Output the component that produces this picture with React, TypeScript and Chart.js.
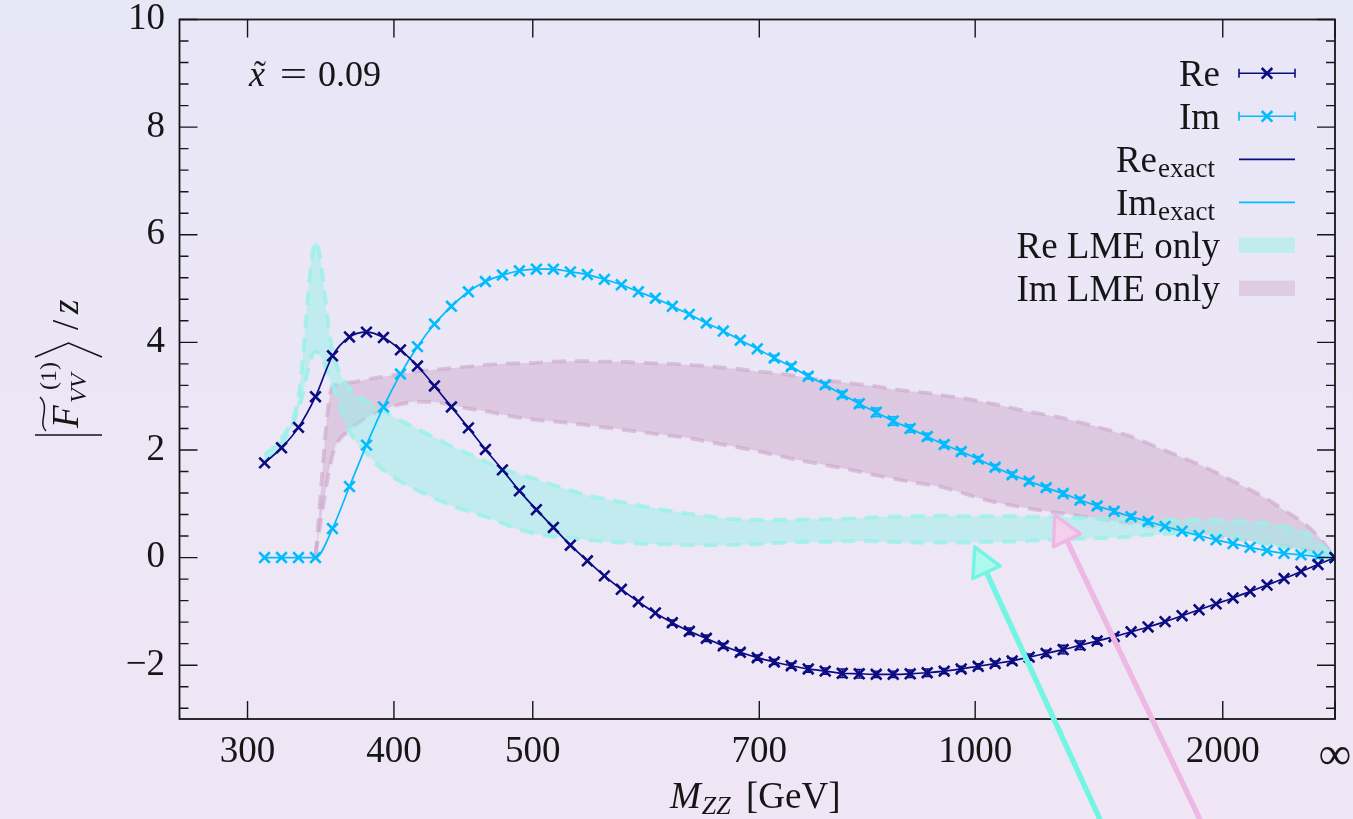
import React, { useEffect, useRef } from "react";
import { Chart, registerables } from "chart.js";

Chart.register(...registerables);

// ---------- axis transform: u = M^2 / (M^2 + M0^2), M = ∞ -> u = 1 ----------
const M0 = 600;
const toU = (m: number): number => (Number.isFinite(m) ? (m * m) / (m * m + M0 * M0) : 1);

// sampling grid (uniform in u)
const U_START = 0.2125;
const U_STEP = 0.0125;

const X_TICK_MASSES = [300, 400, 500, 700, 1000, 2000, Infinity];
const X_TICK_LABELS = ["300", "400", "500", "700", "1000", "2000", "∞"];
const X_MIN_MASS = 252;
const Y_TICKS = [-2, 0, 2, 4, 6, 8, 10];
const Y_MIN = -3;
const Y_MAX = 10;
const Y_MINOR_STEP = 0.4;

// ---------- data ----------
const RE = [
  1.76, 2.04, 2.42, 2.99, 3.75, 4.1, 4.19, 4.09, 3.86, 3.56,
  3.19, 2.8, 2.41, 2.01, 1.63, 1.24, 0.89, 0.56, 0.23, -0.06,
  -0.34, -0.59, -0.82, -1.03, -1.21, -1.37, -1.5, -1.64, -1.76, -1.86,
  -1.94, -2.01, -2.07, -2.11, -2.15, -2.16, -2.17, -2.17, -2.16, -2.14,
  -2.11, -2.07, -2.02, -1.97, -1.92, -1.85, -1.78, -1.71, -1.63, -1.55,
  -1.47, -1.38, -1.29, -1.19, -1.08, -0.97, -0.86, -0.75, -0.63, -0.51,
  -0.39, -0.26, -0.13, 0.0,
];
const IM = [
  0, 0, 0, 0, 0.54, 1.32, 2.09, 2.8, 3.41, 3.92,
  4.34, 4.67, 4.94, 5.13, 5.25, 5.33, 5.36, 5.36, 5.31, 5.26,
  5.17, 5.07, 4.94, 4.82, 4.67, 4.52, 4.36, 4.21, 4.04, 3.88,
  3.71, 3.55, 3.37, 3.21, 3.03, 2.86, 2.7, 2.54, 2.4, 2.25,
  2.1, 1.97, 1.83, 1.68, 1.54, 1.42, 1.3, 1.19, 1.07, 0.96,
  0.86, 0.76, 0.67, 0.58, 0.49, 0.41, 0.33, 0.26, 0.19, 0.13,
  0.08, 0.05, 0.02, 0.0,
];
const RE_ERR = [
  0, 0, 0, 0, 0, 0, 0, 0, 0, 0,
  0, 0, 0, 0, 0, 0, 0, 0, 0, 0,
  0, 0, 0, 0, 0.05, 0.06, 0.06, 0.05, 0.05, 0.05,
  0.05, 0.05, 0.06, 0.06, 0.08, 0.08, 0.06, 0.06, 0.07, 0.07,
  0.05, 0.05, 0.05, 0.05, 0.05, 0.06, 0.06, 0.08, 0.08, 0.06,
  0.05, 0, 0, 0, 0, 0, 0, 0, 0, 0,
  0, 0, 0, 0,
];
const IM_ERR = [
  0, 0, 0, 0, 0, 0, 0, 0, 0, 0,
  0, 0, 0, 0, 0, 0, 0, 0, 0, 0,
  0, 0, 0, 0, 0, 0, 0, 0, 0, 0,
  0.05, 0.05, 0.05, 0.05, 0.06, 0.07, 0.08, 0.08, 0.07, 0.06,
  0.06, 0.05, 0.05, 0.05, 0.05, 0.05, 0.05, 0.05, 0.05, 0.05,
  0.05, 0.05, 0.05, 0, 0, 0, 0, 0, 0, 0,
  0, 0, 0, 0,
];
const RE_LME_HI = [
  1.91, 2.22, 3.0, 5.87, 3.85, 3.14, 2.91, 2.72, 2.55, 2.39,
  2.23, 2.07, 1.93, 1.79, 1.65, 1.55, 1.45, 1.35, 1.25, 1.16,
  1.09, 1.03, 0.97, 0.91, 0.86, 0.81, 0.77, 0.73, 0.71, 0.7,
  0.7, 0.7, 0.71, 0.71, 0.72, 0.73, 0.75, 0.76, 0.77, 0.77,
  0.78, 0.77, 0.77, 0.77, 0.77, 0.76, 0.76, 0.75, 0.74, 0.73,
  0.72, 0.71, 0.7, 0.7, 0.7, 0.7, 0.69, 0.68, 0.67, 0.63,
  0.57, 0.5, 0.3, 0.0,
];
const RE_LME_LO = [
  1.78, 2.1, 2.75, 3.83, 3.2, 2.35, 1.94, 1.62, 1.41, 1.25,
  1.1, 0.97, 0.86, 0.76, 0.64, 0.52, 0.44, 0.39, 0.36, 0.33,
  0.3, 0.28, 0.26, 0.25, 0.24, 0.23, 0.23, 0.23, 0.24, 0.25,
  0.27, 0.28, 0.29, 0.29, 0.3, 0.31, 0.3, 0.29, 0.28, 0.28,
  0.28, 0.28, 0.29, 0.29, 0.3, 0.31, 0.33, 0.34, 0.35, 0.36,
  0.37, 0.39, 0.42, 0.44, 0.45, 0.45, 0.42, 0.38, 0.32, 0.25,
  0.19, 0.13, 0.07, 0.0,
];
const IM_LME_HI = [
  null, null, null, 0.05, 3.18, 3.25, 3.31, 3.36, 3.41, 3.46,
  3.49, 3.52, 3.55, 3.58, 3.6, 3.61, 3.62, 3.64, 3.65, 3.65,
  3.64, 3.64, 3.62, 3.61, 3.6, 3.58, 3.56, 3.53, 3.5, 3.46,
  3.43, 3.39, 3.34, 3.29, 3.26, 3.22, 3.18, 3.13, 3.09, 3.06,
  3.01, 2.97, 2.91, 2.85, 2.78, 2.71, 2.65, 2.59, 2.51, 2.43,
  2.34, 2.25, 2.12, 1.99, 1.86, 1.73, 1.58, 1.42, 1.26, 1.09,
  0.88, 0.68, 0.4, 0.0,
];
const IM_LME_LO = [
  null, null, null, 0.05, 1.9, 2.37, 2.6, 2.75, 2.85, 2.9,
  2.89, 2.84, 2.77, 2.72, 2.66, 2.6, 2.56, 2.53, 2.5, 2.46,
  2.42, 2.38, 2.34, 2.3, 2.26, 2.22, 2.16, 2.1, 2.04, 1.98,
  1.91, 1.84, 1.78, 1.72, 1.66, 1.6, 1.53, 1.47, 1.41, 1.36,
  1.3, 1.21, 1.11, 1.03, 0.97, 0.91, 0.86, 0.82, 0.77, 0.73,
  0.68, 0.64, 0.59, 0.54, 0.5, 0.45, 0.4, 0.36, 0.31, 0.26,
  0.21, 0.16, 0.09, 0.0,
];

// decorative arrows, in data coordinates [u, value]
const ARROWS = [
  { from: [0.827, -4.86], to: [0.735, 0.2], color: "#74f5e4", head: "#aef8ee" },
  { from: [0.9005, -4.86], to: [0.7939, 0.79], color: "#eeb8e4", head: "#f4d0ee" },
];

// ---------- styles ----------
const NAVY = "#0c0c82";
const SKY = "#00bcff";
const CYAN_FILL = "rgba(150,240,232,0.5)";
const CYAN_EDGE = "rgba(150,242,232,0.8)";
const PURPLE_FILL = "rgba(205,165,200,0.45)";
const PURPLE_EDGE = "rgba(205,170,205,0.65)";
const CYAN_BOX = "#c0ecee";
const PURPLE_BOX = "#decce2";
const INK = "#161616";
const SERIF = '"Liberation Serif", "Times New Roman", serif';
const font = (size: number, italic = false) => `${italic ? "italic " : ""}${size}px ${SERIF}`;

const LEGEND = [
  { label: "Re", sub: "", kind: "err", color: NAVY },
  { label: "Im", sub: "", kind: "err", color: SKY },
  { label: "Re", sub: "exact", kind: "line", color: NAVY },
  { label: "Im", sub: "exact", kind: "line", color: SKY },
  { label: "Re LME only", sub: "", kind: "box", color: CYAN_BOX },
  { label: "Im LME only", sub: "", kind: "box", color: PURPLE_BOX },
];

const pts = (arr: (number | null)[]) => arr.map((y, i) => ({ x: U_START + i * U_STEP, y }));

function drawCross(ctx: CanvasRenderingContext2D, x: number, y: number, r: number) {
  const o = r * Math.SQRT1_2;
  ctx.beginPath();
  ctx.moveTo(x - o, y - o);
  ctx.lineTo(x + o, y + o);
  ctx.moveTo(x - o, y + o);
  ctx.lineTo(x + o, y - o);
  ctx.stroke();
}

function drawErrors(ctx: CanvasRenderingContext2D, xs: any, ys: any, vals: number[], errs: number[], color: string) {
  ctx.save();
  ctx.strokeStyle = color;
  ctx.lineWidth = 1.4;
  vals.forEach((v, i) => {
    const e = errs[i];
    if (!e) return;
    const x = xs.getPixelForValue(U_START + i * U_STEP);
    const y1 = ys.getPixelForValue(v - e);
    const y2 = ys.getPixelForValue(v + e);
    ctx.beginPath();
    ctx.moveTo(x, y1);
    ctx.lineTo(x, y2);
    ctx.moveTo(x - 5, y1);
    ctx.lineTo(x + 5, y1);
    ctx.moveTo(x - 5, y2);
    ctx.lineTo(x + 5, y2);
    ctx.stroke();
  });
  ctx.restore();
}

function drawArrow(ctx: CanvasRenderingContext2D, x1: number, y1: number, x2: number, y2: number, color: string, head: string) {
  const dx = x2 - x1;
  const dy = y2 - y1;
  const L = Math.hypot(dx, dy);
  const ux = dx / L;
  const uy = dy / L;
  const hl = 28;
  const hw = 15;
  const bx = x2 - ux * hl;
  const by = y2 - uy * hl;
  ctx.save();
  ctx.strokeStyle = color;
  ctx.lineCap = "round";
  ctx.lineJoin = "round";
  ctx.lineWidth = 5.5;
  ctx.beginPath();
  ctx.moveTo(x1, y1);
  ctx.lineTo(bx + ux * 3, by + uy * 3);
  ctx.stroke();
  ctx.beginPath();
  ctx.moveTo(x2, y2);
  ctx.lineTo(bx - uy * hw, by + ux * hw);
  ctx.lineTo(bx + uy * hw, by - ux * hw);
  ctx.closePath();
  ctx.fillStyle = head;
  ctx.fill();
  ctx.lineWidth = 3.5;
  ctx.stroke();
  ctx.restore();
}

const decorPlugin = {
  id: "decor",
  afterDatasetsDraw(chart: any) {
    const ctx: CanvasRenderingContext2D = chart.ctx;
    const xs = chart.scales.x;
    const ys = chart.scales.y;
    const a = chart.chartArea;

    drawErrors(ctx, xs, ys, RE, RE_ERR, NAVY);
    drawErrors(ctx, xs, ys, IM, IM_ERR, SKY);

    ctx.save();
    // frame
    ctx.strokeStyle = INK;
    ctx.lineWidth = 1.8;
    ctx.strokeRect(a.left, a.top, a.right - a.left, a.bottom - a.top);
    // ticks
    ctx.lineWidth = 1.4;
    ctx.beginPath();
    X_TICK_MASSES.forEach((m) => {
      const x = xs.getPixelForValue(toU(m));
      ctx.moveTo(x, a.bottom);
      ctx.lineTo(x, a.bottom - 18);
      ctx.moveTo(x, a.top);
      ctx.lineTo(x, a.top + 18);
    });
    for (let k = Math.ceil(Y_MIN / Y_MINOR_STEP); k <= Math.floor(Y_MAX / Y_MINOR_STEP); k++) {
      const v = k * Y_MINOR_STEP;
      const major = k % 5 === 0;
      const len = major ? 18 : 9;
      const y = ys.getPixelForValue(v);
      ctx.moveTo(a.left, y);
      ctx.lineTo(a.left + len, y);
      ctx.moveTo(a.right, y);
      ctx.lineTo(a.right - len, y);
    }
    ctx.stroke();

    ctx.fillStyle = INK;
    ctx.textBaseline = "alphabetic";

    // annotation  x̃ = 0.09
    ctx.font = font(36, true);
    ctx.textAlign = "left";
    ctx.fillText("x", 249, 86);
    ctx.font = font(36);
    ctx.textAlign = "center";
    ctx.fillText("˜", 260, 86);
    ctx.save();
    ctx.translate(293.5, 86);
    ctx.scale(1.35, 1);
    ctx.fillText("=", 0, 0);
    ctx.restore();
    ctx.textAlign = "left";
    ctx.fillText("0.09", 318, 86);

    // legend
    LEGEND.forEach((item, k) => {
      const cy = 73.3 + 43 * k;
      const base = cy + 12.7;
      ctx.fillStyle = INK;
      ctx.textAlign = "right";
      if (item.sub) {
        ctx.font = font(27);
        const sw = ctx.measureText(item.sub).width;
        ctx.fillText(item.sub, 1215, base + 5);
        ctx.font = font(37);
        ctx.fillText(item.label, 1215 - sw - 1, base);
      } else {
        ctx.font = font(37);
        ctx.fillText(item.label, 1220, base);
      }
      ctx.strokeStyle = item.color;
      if (item.kind === "err") {
        ctx.lineWidth = 1.6;
        ctx.beginPath();
        ctx.moveTo(1239, cy);
        ctx.lineTo(1295, cy);
        ctx.moveTo(1239, cy - 4.5);
        ctx.lineTo(1239, cy + 4.5);
        ctx.moveTo(1295, cy - 4.5);
        ctx.lineTo(1295, cy + 4.5);
        ctx.stroke();
        ctx.lineWidth = 2.6;
        drawCross(ctx, 1267, cy, 7.5);
      } else if (item.kind === "line") {
        ctx.lineWidth = 1.8;
        ctx.beginPath();
        ctx.moveTo(1239, cy);
        ctx.lineTo(1295, cy);
        ctx.stroke();
      } else {
        ctx.fillStyle = item.color;
        ctx.fillRect(1239, cy - 7.7, 56, 15.4);
      }
    });

    // x-axis title  M_ZZ [GeV]
    ctx.fillStyle = INK;
    ctx.textAlign = "left";
    ctx.font = font(37, true);
    ctx.fillText("M", 670, 808);
    const mw = ctx.measureText("M").width;
    ctx.font = font(26, true);
    ctx.fillText("ZZ", 670 + mw + 1, 814);
    ctx.font = font(37);
    ctx.fillText("[GeV]", 746, 808);

    // y-axis title  |F̃^(1)_VV⟩ /z
    ctx.save();
    ctx.translate(68, 370);
    ctx.rotate(-Math.PI / 2);
    ctx.strokeStyle = INK;
    ctx.lineWidth = 1.6;
    ctx.beginPath();
    ctx.moveTo(-65, -33);
    ctx.lineTo(-65, 34);
    ctx.moveTo(13, -33);
    ctx.lineTo(27, 0.5);
    ctx.lineTo(13, 34);
    ctx.stroke();
    ctx.lineWidth = 1.5;
    ctx.beginPath();
    ctx.moveTo(-61, -22);
    ctx.bezierCurveTo(-53, -31, -38, -17, -27, -28);
    ctx.stroke();
    ctx.textAlign = "left";
    ctx.font = font(37, true);
    ctx.fillText("F", -58, 10);
    ctx.font = font(24);
    ctx.fillText("(1)", -20, -12);
    ctx.font = font(24, true);
    ctx.fillText("VV", -33, 18);
    ctx.font = font(37);
    ctx.fillText("/", 40, 10);
    ctx.font = font(37, true);
    ctx.fillText("z", 56, 10);
    ctx.restore();

    ctx.restore();
  },
  afterDraw(chart: any) {
    const ctx: CanvasRenderingContext2D = chart.ctx;
    const xs = chart.scales.x;
    const ys = chart.scales.y;
    ARROWS.forEach((ar) => {
      drawArrow(
        ctx,
        xs.getPixelForValue(ar.from[0]),
        ys.getPixelForValue(ar.from[1]),
        xs.getPixelForValue(ar.to[0]),
        ys.getPixelForValue(ar.to[1]),
        ar.color,
        ar.head
      );
    });
  },
};

export default function App() {
  const ref = useRef<HTMLCanvasElement | null>(null);

  useEffect(() => {
    if (!ref.current) return;
    const band = (data: any[], edge: string, fill: any) => ({
      data,
      showLine: true,
      borderColor: edge,
      borderWidth: 3.8,
      borderDash: [14, 9],
      pointRadius: 0,
      cubicInterpolationMode: "monotone",
      spanGaps: false,
      fill,
      backgroundColor: "transparent",
    });
    const marks = (data: any[], color: string) => ({
      data,
      showLine: false,
      pointStyle: "crossRot",
      pointRadius: 7.5,
      pointBorderWidth: 2.6,
      borderColor: color,
      backgroundColor: color,
    });
    const curve = (data: any[], color: string) => ({
      data,
      showLine: true,
      borderColor: color,
      borderWidth: 1.7,
      pointRadius: 0,
      cubicInterpolationMode: "monotone",
      fill: false,
    });
    const chart = new Chart(ref.current, {
      type: "scatter",
      data: {
        datasets: [
          marks(pts(RE), NAVY), // 0 (drawn on top)
          marks(pts(IM), SKY), // 1
          curve(pts(RE), NAVY), // 2  Re exact
          curve(pts(IM), SKY), // 3  Im exact
          band(pts(RE_LME_HI), CYAN_EDGE, { target: 5, above: CYAN_FILL, below: CYAN_FILL }), // 4
          band(pts(RE_LME_LO), CYAN_EDGE, false), // 5
          band(pts(IM_LME_HI), PURPLE_EDGE, { target: 7, above: PURPLE_FILL, below: PURPLE_FILL }), // 6
          band(pts(IM_LME_LO), PURPLE_EDGE, false), // 7
        ] as any,
      },
      options: {
        animation: false,
        responsive: false,
        maintainAspectRatio: false,
        devicePixelRatio: 1,
        events: [],
        layout: { padding: { left: 0, right: 18, top: 19.5, bottom: 0 } },
        plugins: {
          legend: { display: false },
          tooltip: { enabled: false },
        },
        scales: {
          x: {
            type: "linear",
            min: toU(X_MIN_MASS),
            max: 1,
            grid: { display: false, drawTicks: false },
            border: { display: false },
            afterBuildTicks: (s: any) => {
              s.ticks = X_TICK_MASSES.map((m) => ({ value: toU(m) }));
            },
            afterFit: (s: any) => {
              s.height = 100;
              s.paddingLeft = 0;
              s.paddingRight = 0;
            },
            ticks: {
              autoSkip: false,
              maxRotation: 0,
              minRotation: 0,
              padding: 14.5,
              color: INK,
              font: (c: any) => ({
                family: SERIF,
                size: c.index === X_TICK_LABELS.length - 1 ? 46 : 37,
                lineHeight: 1,
              }),
              callback: (_v: any, i: number) => X_TICK_LABELS[i],
            },
          },
          y: {
            type: "linear",
            min: Y_MIN,
            max: Y_MAX,
            grid: { display: false, drawTicks: false },
            border: { display: false },
            afterBuildTicks: (s: any) => {
              s.ticks = Y_TICKS.map((v) => ({ value: v }));
            },
            afterFit: (s: any) => {
              s.width = 179.5;
              s.paddingTop = 0;
              s.paddingBottom = 0;
            },
            ticks: {
              padding: 14.5,
              color: INK,
              font: { family: SERIF, size: 37, lineHeight: 1 },
              callback: (v: any) => (v < 0 ? "−" + Math.abs(v) : String(v)),
            },
          },
        },
      } as any,
      plugins: [decorPlugin],
    });
    return () => chart.destroy();
  }, []);

  return (
    <div
      style={{
        position: "fixed",
        left: 0,
        top: 0,
        width: 1353,
        height: 819,
        background: "linear-gradient(180deg, #e8e7f7 0%, #f0e6f5 100%)",
      }}
    >
      <canvas ref={ref} width={1353} height={819} style={{ display: "block", width: 1353, height: 819 }} />
    </div>
  );
}
